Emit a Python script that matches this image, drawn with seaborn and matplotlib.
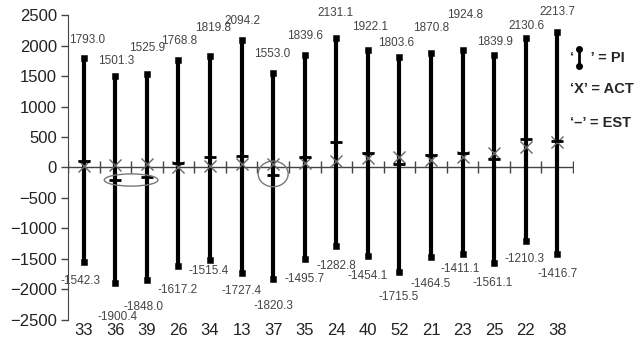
import numpy as np
import pandas as pd
import seaborn as sns
import matplotlib.pyplot as plt
from matplotlib.patches import Ellipse
from matplotlib.lines import Line2D

users = ["33", "36", "39", "26", "34", "13", "37", "35", "24", "40", "52", "21", "23", "25", "22", "38"]
pi_upper = [1793.0, 1501.3, 1525.9, 1768.8, 1819.8, 2094.2, 1553.0, 1839.6,
            2131.1, 1922.1, 1803.6, 1870.8, 1924.8, 1839.9, 2130.6, 2213.7]
pi_lower = [-1542.3, -1900.4, -1848.0, -1617.2, -1515.4, -1727.4, -1820.3, -1495.7,
            -1282.8, -1454.1, -1715.5, -1464.5, -1411.1, -1561.1, -1210.3, -1416.7]
estimate = [110, -200, -150, 70, 170, 185, -115, 170, 415, 240, 65, 200, 245, 135, 475, 430]
actual = [30, 40, 50, 10, 30, 60, 60, 80, 110, 150, 165, 120, 175, 235, 330, 410]

# label offsets in pixels (dx, dy) relative to the bar ends
upper_off = [(3, 18), (1, 15), (0, 26), (1, 19), (3, 28), (1, 19), (-1, 19), (0, 19),
             (-1, 25), (2, 23), (-3, 14), (0, 25), (2, 35), (1, 13), (1, 12), (0, 20)]
lower_off = [(-3, -19), (2, -34), (-3, -27), (-1, -24), (-1, -11), (0, -18), (0, -27), (0, -20),
             (0, -20), (0, -20), (-1, -25), (0, -27), (-2, -15), (-1, -20), (-1, -18), (0, -20)]

df = pd.DataFrame({"user": users, "pos": np.arange(len(users)), "upper": pi_upper,
                   "lower": pi_lower, "est": estimate, "act": actual})

sns.set_style("ticks")
plt.rcParams["font.family"] = ["Liberation Sans", "DejaVu Sans"]

fig = plt.figure(figsize=(6.44, 3.45), dpi=100)
ax = fig.add_axes([0.1056, 0.0725, 0.7842, 0.884])

# prediction intervals
ax.vlines(df["pos"], df["lower"], df["upper"], color="black", lw=3, zorder=3)
ends = pd.concat([df[["pos", "upper"]].rename(columns={"upper": "v"}),
                  df[["pos", "lower"]].rename(columns={"lower": "v"})])
sns.scatterplot(data=ends, x="pos", y="v", marker="s", s=22, color="black",
                edgecolor="black", ax=ax, zorder=4)

# zero axis with boundary ticks
ax.axhline(0, color="#444", lw=1, zorder=2)
bounds = np.arange(len(users) + 1) - 0.5
ax.plot(bounds, np.zeros(len(bounds)), ls="none", marker="|", ms=9, mew=1, color="#444", zorder=2)

sns.scatterplot(data=df, x="pos", y="act", marker="x", s=75, color="#666",
                linewidth=1, ax=ax, zorder=5)
sns.scatterplot(data=df, x="pos", y="est", marker="_", s=70, color="black",
                linewidth=2, ax=ax, zorder=6)

for i, row in df.iterrows():
    ax.annotate(f"{row['upper']:.1f}", (row["pos"], row["upper"]),
                xytext=upper_off[i], textcoords="offset pixels",
                ha="center", va="center", fontsize=8.5, color="#444")
    ax.annotate(f"{row['lower']:.1f}", (row["pos"], row["lower"]),
                xytext=lower_off[i], textcoords="offset pixels",
                ha="center", va="center", fontsize=8.5, color="#444")

# highlight negative estimates
ax.add_patch(Ellipse((1.5, np.mean(estimate[1:3]) - 30), 1.7, 200,
                     fill=False, ec="#777", lw=1, zorder=7))
ax.add_patch(Ellipse((6, estimate[6] + 10), 0.95, 420,
                     fill=False, ec="#777", lw=1, zorder=7))

ax.set_xlim(-0.5, len(users) - 0.5)
ax.set_ylim(-2500, 2500)
ax.set_yticks(range(-2500, 2501, 500))
ax.set_xticks(df["pos"])
ax.set_xticklabels(users)
ax.tick_params(axis="x", length=0, pad=2, labelsize=12, labelcolor="#222")
ax.tick_params(axis="y", length=5, width=1, color="#444", labelsize=12, pad=3, labelcolor="#222")
ax.set_xlabel("")
ax.set_ylabel("")
for s in ["top", "right", "bottom"]:
    ax.spines[s].set_visible(False)
ax.spines["left"].set_color("#444")

# legend texts
lx = 570 / 644
fig.text(lx, 1 - 58 / 345, "\u2018    \u2019 = PI", fontsize=10.5, fontweight="bold", va="center")
fig.add_artist(Line2D([579 / 644, 579 / 644], [1 - 49 / 345, 1 - 66 / 345], color="black", lw=2,
                      marker="o", ms=4, markevery=[0, 1]))
fig.text(lx, 1 - 89 / 345, "\u2018X\u2019 = ACT", fontsize=10.5, fontweight="bold", va="center")
fig.text(lx, 1 - 123 / 345, "\u2018\u2013\u2019 = EST", fontsize=10.5, fontweight="bold", va="center")

fig.savefig("out.png", dpi=100)
